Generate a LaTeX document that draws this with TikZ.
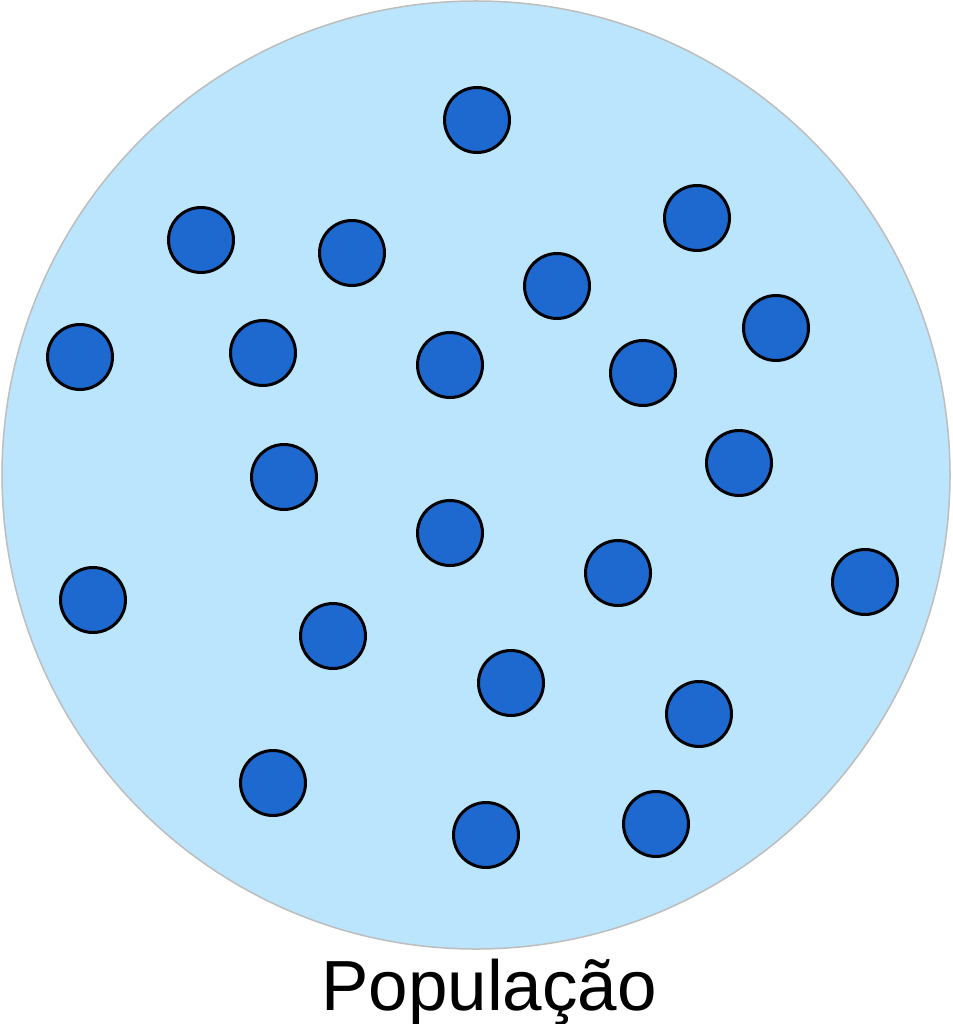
\documentclass[tikz,border=0pt]{standalone}
\usepackage{fontspec}
\setmainfont{Liberation Sans}
\usepackage{xcolor}
\usepackage{tikz}
\usetikzlibrary{positioning}
\definecolor{popfill}{HTML}{BBE5FC}
\definecolor{popedge}{HTML}{BDBDBD}
\definecolor{indblue}{HTML}{1E69CF}
\tikzset{
  popcircle/.style={circle, draw=popedge, line width=1.5pt, fill=popfill,
    minimum size=948pt, inner sep=0pt},
  indiv/.style={circle, draw=black, line width=3pt, fill=indblue,
    minimum size=65pt, inner sep=0pt},
  poplabel/.style={font=\fontsize{71}{80}\selectfont, anchor=base, inner sep=0pt}
}

\begin{document}
\begin{tikzpicture}[x=1pt, y=-1pt]
        \useasboundingbox (0,0) rectangle (952,1024);
        \node[popcircle] (pop) at (476,475) {};
        \node[poplabel] (lbl) at (489,1010) {População};

        \node[indiv] (i1) at (477,120) {};
        \node[indiv] (i2) at (697,218) {};
        \node[indiv] (i3) at (201,240) {};
        \node[indiv] (i4) at (352,253) {};
        \node[indiv] (i5) at (557,286) {};
        \node[indiv] (i6) at (776,328) {};
        \node[indiv] (i7) at (80,357) {};
        \node[indiv] (i8) at (263,353) {};
        \node[indiv] (i9) at (450,365) {};
        \node[indiv] (i10) at (643,373) {};
        \node[indiv] (i11) at (739,463) {};
        \node[indiv] (i12) at (284,477) {};
        \node[indiv] (i13) at (450,533) {};
        \node[indiv] (i14) at (618,573) {};
        \node[indiv] (i15) at (865,582) {};
        \node[indiv] (i16) at (93,600) {};
        \node[indiv] (i17) at (333,636) {};
        \node[indiv] (i18) at (511,683) {};
        \node[indiv] (i19) at (699,714) {};
        \node[indiv] (i20) at (273,783) {};
        \node[indiv] (i21) at (486,835) {};
        \node[indiv] (i22) at (656,824) {};
    \end{tikzpicture}
\end{document}
